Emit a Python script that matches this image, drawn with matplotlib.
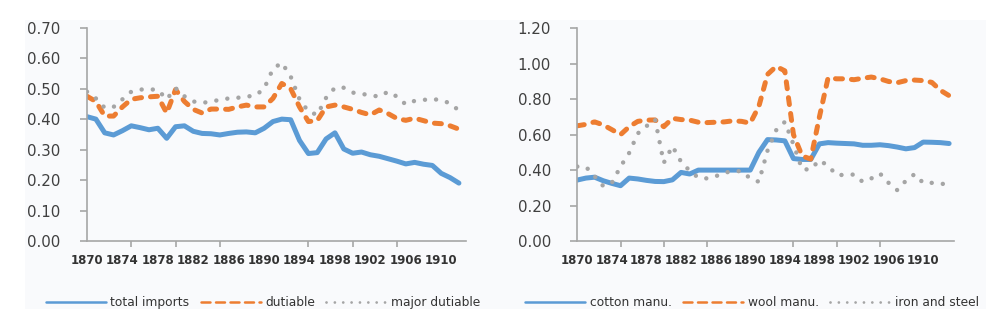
import matplotlib
matplotlib.use("Agg")
import matplotlib.pyplot as plt
from matplotlib.patches import Rectangle

# --- data ---
years_left = list(range(1870, 1913))
total_imports = [0.408, 0.400, 0.355, 0.348, 0.362, 0.378, 0.372, 0.365, 0.370, 0.337,
                 0.375, 0.378, 0.360, 0.353, 0.352, 0.348, 0.353, 0.357, 0.358, 0.355,
                 0.370, 0.392, 0.400, 0.398, 0.330, 0.287, 0.290, 0.335, 0.355, 0.302,
                 0.288, 0.292, 0.283, 0.278, 0.270, 0.262, 0.253, 0.258, 0.252, 0.248,
                 0.222, 0.208, 0.190]
dutiable = [0.475, 0.458, 0.410, 0.410, 0.440, 0.465, 0.470, 0.473, 0.475, 0.420,
            0.497, 0.458, 0.432, 0.420, 0.433, 0.433, 0.432, 0.440, 0.446, 0.440,
            0.440, 0.468, 0.517, 0.500, 0.440, 0.392, 0.395, 0.440, 0.446, 0.440,
            0.432, 0.422, 0.414, 0.430, 0.418, 0.402, 0.396, 0.403, 0.395, 0.387,
            0.385, 0.378, 0.367]
major_dutiable = [0.490, 0.468, 0.437, 0.440, 0.465, 0.490, 0.497, 0.498, 0.496, 0.465,
                  0.502, 0.475, 0.458, 0.453, 0.458, 0.463, 0.468, 0.470, 0.474, 0.477,
                  0.500, 0.565, 0.585, 0.540, 0.465, 0.425, 0.414, 0.470, 0.503, 0.503,
                  0.487, 0.483, 0.478, 0.474, 0.490, 0.474, 0.448, 0.460, 0.463, 0.466,
                  0.462, 0.452, 0.428]

years_right = list(range(1870, 1914))
cotton = [0.344, 0.355, 0.360, 0.340, 0.325, 0.312, 0.355, 0.350, 0.342, 0.336,
          0.335, 0.345, 0.387, 0.378, 0.400, 0.400, 0.400, 0.400, 0.400, 0.400,
          0.400, 0.500, 0.572, 0.570, 0.565, 0.465, 0.460, 0.460, 0.548, 0.555,
          0.552, 0.550, 0.548, 0.540, 0.540, 0.543, 0.538, 0.530, 0.520, 0.527,
          0.558, 0.557, 0.555, 0.550]
wool = [0.650, 0.658, 0.672, 0.655, 0.628, 0.600, 0.645, 0.675, 0.682, 0.683,
        0.645, 0.692, 0.685, 0.682, 0.670, 0.668, 0.670, 0.672, 0.678, 0.675,
        0.665, 0.760, 0.940, 0.985, 0.960, 0.600, 0.480, 0.462, 0.700, 0.920,
        0.915, 0.915, 0.910, 0.918, 0.925, 0.915, 0.900, 0.893, 0.905, 0.908,
        0.905, 0.895, 0.850, 0.820]
iron_steel = [0.420, 0.418, 0.366, 0.310, 0.328, 0.420, 0.497, 0.607, 0.648, 0.686,
              0.441, 0.535, 0.447, 0.396, 0.357, 0.353, 0.365, 0.385, 0.394, 0.394,
              0.353, 0.334, 0.510, 0.625, 0.672, 0.545, 0.404, 0.404, 0.456, 0.424,
              0.372, 0.373, 0.375, 0.334, 0.353, 0.381, 0.328, 0.287, 0.340, 0.377,
              0.328, 0.328, 0.325, 0.315]

label_years = list(range(1870, 1911, 4))
tick_years = list(range(1870, 1911, 5))

BLUE, ORANGE, GREY = "#5B9BD5", "#ED7D31", "#A5A5A5"
AXIS = "#A6A6A6"
TXT = "#404040"

plt.rcParams["font.family"] = ["DejaVu Sans"]

fig = plt.figure(figsize=(9.99, 3.31), dpi=100)
fig.patch.set_facecolor("white")

# light chart-area backgrounds
for x0, w in [(25 / 999, 475 / 999), (490 / 999, 496 / 999)]:
    fig.patches.append(Rectangle((x0, 1 - 309 / 331), w, 289 / 331,
                                 transform=fig.transFigure, facecolor="#F9FAFC",
                                 edgecolor="none", zorder=-10))

ax1 = fig.add_axes([87 / 999, 1 - 241 / 331, 379 / 999, 213.3 / 331])
ax2 = fig.add_axes([577.3 / 999, 1 - 241 / 331, 377 / 999, 212.7 / 331])


def style(ax, xmax, ymax, ystep, fmt):
    ax.set_facecolor("none")
    for s in ("top", "right"):
        ax.spines[s].set_visible(False)
    for s in ("left", "bottom"):
        ax.spines[s].set_color(AXIS)
        ax.spines[s].set_linewidth(1.2)
    ax.set_xlim(1870, xmax)
    ax.set_ylim(0, ymax)
    n = int(round(ymax / ystep))
    yt = [i * ystep for i in range(n + 1)]
    ax.set_yticks(yt)
    ax.set_yticklabels([fmt.format(v) for v in yt])
    ax.tick_params(axis="y", length=5, width=1.2, color=AXIS, pad=14,
                   labelsize=10.8, labelcolor=TXT)
    ax.set_xticks(label_years)
    ax.set_xticklabels([str(y) for y in label_years], fontweight="bold")
    ax.tick_params(axis="x", which="major", length=0, pad=9,
                   labelsize=8.5, labelcolor="#333333")
    ax.set_xticks(tick_years, minor=True)
    ax.tick_params(axis="x", which="minor", length=4, width=1.2, color=AXIS)


def draw(ax, x, s1, s2, s3, names):
    ax.plot(x, s1, color=BLUE, lw=3.6, solid_capstyle="round",
            solid_joinstyle="round", label=names[0])
    ax.plot(x, s2, color=ORANGE, lw=3.6, ls=(0, (1.4, 1.8)),
            dash_capstyle="round", dash_joinstyle="round", label=names[1])
    ax.plot(x, s3, color=GREY, lw=3.2, ls=(0, (0.01, 2.5)),
            dash_capstyle="round", label=names[2])


draw(ax1, years_left, total_imports, dutiable, major_dutiable,
     ["total imports", "dutiable", "major dutiable"])
draw(ax2, years_right, cotton, wool, iron_steel,
     ["cotton manu.", "wool manu.", "iron and steel"])

style(ax1, 1912.8, 0.7, 0.1, "{:.2f}")
style(ax2, 1913.6, 1.2, 0.2, "{:.2f}")

for ax, cx in [(ax1, 263 / 999), (ax2, 752 / 999)]:
    leg = ax.legend(loc="center", bbox_to_anchor=(cx, 1 - 302.5 / 331),
                    bbox_transform=fig.transFigure, ncol=3, frameon=False,
                    fontsize=8.8, labelcolor="#333333", handlelength=4.9,
                    handletextpad=0.4, columnspacing=0.9, borderaxespad=0)
    # thinner handles than the plotted lines, like the original legend
    h1, h2, h3 = leg.get_lines()
    h1.set_linewidth(1.8)
    h2.set_linewidth(1.8)
    h2.set_linestyle((0, (3.6, 2.2)))
    h3.set_linewidth(2.0)
    h3.set_linestyle((0, (0.01, 3.0)))

fig.savefig("out.png", dpi=100, facecolor=fig.get_facecolor())
